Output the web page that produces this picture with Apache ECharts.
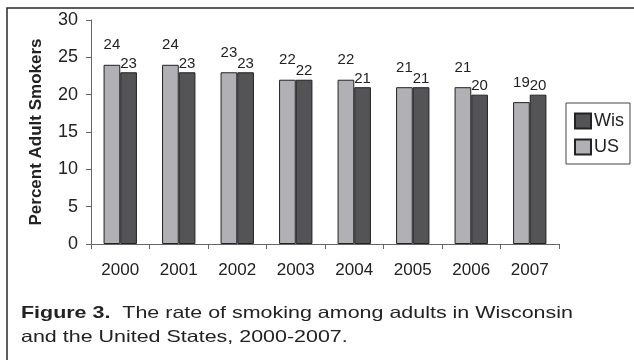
<!DOCTYPE html>
<html>
<head>
<meta charset="utf-8">
<script src="https://cdn.jsdelivr.net/npm/echarts@6/dist/echarts.min.js"></script>
<style>
  html, body { margin: 0; padding: 0; background: #fff; }
  #chart { width: 634px; height: 360px; }
</style>
</head>
<body>
<div id="chart"></div>
<script>
// Adult smoking rates, Wisconsin vs. United States
const years = ['2000', '2001', '2002', '2003', '2004', '2005', '2006', '2007'];
const usRates = [24, 24, 23, 22, 22, 21, 21, 19];
const wisRates = [23, 23, 23, 22, 21, 21, 20, 20];
const yTicks = { min: 0, max: 30, step: 5 };

const FONT = '"Liberation Sans", Arial, sans-serif';
const chart = echarts.init(document.getElementById('chart'));

chart.setOption({
  animation: false,
  textStyle: { fontFamily: FONT },
  graphic: [
    {
      // outer figure frame
      type: 'rect',
      shape: { x: 7, y: 8, width: 700, height: 400 },
      style: { fill: 'none', stroke: '#2a2a2a', lineWidth: 1.5 },
      silent: true
    },
    {
      // figure caption, set in a slightly wide face
      type: 'text',
      x: 21,
      y: 301,
      scaleX: 1.3,
      style: {
        text: '{b|Figure 3.}  The rate of smoking among adults in Wisconsin\nand the United States, 2000-2007.',
        fontFamily: FONT,
        fontSize: 16.5,
        lineHeight: 24,
        fill: '#222',
        rich: {
          b: { fontFamily: FONT, fontSize: 16.5, fontWeight: 'bold', fill: '#222', lineHeight: 24 }
        }
      },
      silent: true
    }
  ],
  legend: {
    data: ['Wis', 'US'],
    orient: 'vertical',
    left: 566,
    top: 103,
    padding: [9, 6, 8, 8],
    itemWidth: 16,
    itemHeight: 15,
    itemGap: 8,
    icon: 'rect',
    borderColor: '#444',
    borderWidth: 1,
    textStyle: { fontFamily: FONT, fontSize: 18, color: '#222', padding: [0, 0, 0, -2] }
  },
  grid: { left: 91, right: 75, top: 20, bottom: 116 },
  xAxis: {
    type: 'category',
    data: years,
    axisLine: { lineStyle: { color: '#666', width: 1 } },
    axisTick: { show: true, length: 5, lineStyle: { color: '#666' } },
    axisLabel: { fontFamily: FONT, fontSize: 17, color: '#222', margin: 18 }
  },
  yAxis: {
    type: 'value',
    min: yTicks.min,
    max: yTicks.max,
    interval: yTicks.step,
    name: 'Percent Adult Smokers',
    nameLocation: 'middle',
    nameGap: 46,
    nameTextStyle: { fontFamily: FONT, fontSize: 17, fontWeight: 'bold', color: '#222' },
    axisLine: { show: true, lineStyle: { color: '#666', width: 1 } },
    axisTick: { show: true, length: 5, lineStyle: { color: '#666' } },
    splitLine: { show: false },
    axisLabel: { fontFamily: FONT, fontSize: 18, color: '#222', margin: 13 }
  },
  series: [
    {
      name: 'US',
      type: 'bar',
      data: usRates,
      barGap: '0%',
      barCategoryGap: '43%',
      itemStyle: { color: '#b1b1b5', borderColor: '#222', borderWidth: 1 },
      label: { show: true, position: 'top', distance: 12, fontFamily: FONT, fontSize: 15, color: '#222' }
    },
    {
      name: 'Wis',
      type: 'bar',
      data: wisRates,
      itemStyle: { color: '#545457', borderColor: '#222', borderWidth: 1 },
      label: { show: true, position: 'top', distance: 1, fontFamily: FONT, fontSize: 15, color: '#222' }
    }
  ]
});
</script>
</body>
</html>
